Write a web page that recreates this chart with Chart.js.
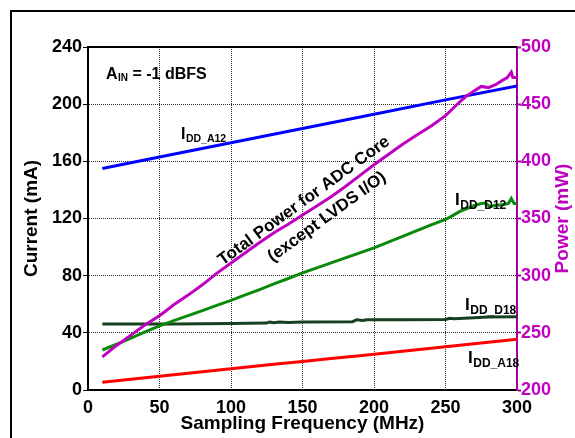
<!DOCTYPE html>
<html><head><meta charset="utf-8">
<script src="https://cdn.jsdelivr.net/npm/chart.js@4.4.1/dist/chart.umd.min.js"></script>
<style>
html,body{margin:0;padding:0;background:#fff;overflow:hidden;width:575px;height:438px;}
canvas{position:absolute;left:0;top:0;}
</style></head><body>
<canvas id="c" width="575" height="438"></canvas>
<script>
// ---- data ----
const xTicks = [0, 50, 100, 150, 200, 250, 300];
const currentTicks = [0, 40, 80, 120, 160, 200, 240];
const powerTicks = [200, 250, 300, 350, 400, 450, 500];

const a12Freq = [10, 50, 100, 150, 200, 250, 300];
const a12Vals = [155, 163, 173, 183, 193, 203, 212.7];

const d12Freq = [10, 20, 30, 40, 50, 60, 70, 80, 90, 100, 110, 120, 130, 140, 150, 160, 170, 180, 190, 200, 210, 220, 230, 240, 250, 255, 260, 265, 270, 275, 278, 281, 285, 290, 294, 296, 298, 300];
const d12Vals = [28, 32, 36.3, 40.6, 44.9, 48.5, 52, 55.6, 59.2, 62.7, 66.5, 70.3, 74.2, 78, 82, 85.5, 89, 92.5, 96, 99.5, 103.5, 107.5, 111.5, 115.5, 119.3, 122, 125, 127, 129, 130.5, 130.8, 128.3, 129.3, 129.6, 130.5, 134, 130.5, 130.5];

const d18Freq = [10, 60, 100, 125, 127, 130, 134, 140, 150, 185, 188, 192, 195, 220, 250, 253, 256, 270, 280, 300];
const d18Vals = [46.1, 46.2, 46.5, 46.8, 47.6, 47.0, 47.6, 47.3, 47.5, 47.8, 49.2, 48.6, 49.2, 49.2, 49.3, 50.2, 49.8, 50.5, 51, 51.2];

const a18Freq = [10, 30, 50, 70, 90, 110, 130, 150, 170, 190, 210, 230, 250, 270, 290, 300];
const a18Vals = [5.5, 7.5, 9.6, 11.7, 13.8, 15.9, 18, 20, 22, 24, 26, 28.2, 30.3, 32.4, 34.5, 35.5];

const powerFreq = [10, 20, 30, 40, 50, 60, 70, 80, 90, 100, 110, 120, 130, 140, 150, 160, 170, 180, 190, 200, 210, 220, 230, 240, 250, 255, 260, 265, 270, 275, 280, 285, 290, 293, 296, 297, 300];
const powerVals = [229, 239, 248, 257, 265, 274.5, 283, 292, 302, 311, 320, 329, 337.5, 345, 353, 361, 369, 378, 387.5, 397, 406, 415, 423, 431, 440, 446, 452, 457.5, 461.5, 465.5, 464.5, 467, 471, 473, 478, 473.5, 473];

const FONT = '"Liberation Sans", Arial, Helvetica, sans-serif';
const MAG = '#c000c0';

function pts(xs, ys) { return xs.map((x, i) => ({ x: x, y: ys[i] })); }

function drawSub(ctx, main, sub, x, y, mainSize, subSize, drop, color) {
  ctx.save();
  ctx.fillStyle = color;
  ctx.textAlign = 'left';
  ctx.textBaseline = 'alphabetic';
  ctx.font = 'bold ' + mainSize + 'px ' + FONT;
  ctx.fillText(main, x, y);
  const w = ctx.measureText(main).width;
  ctx.font = 'bold ' + subSize + 'px ' + FONT;
  ctx.fillText(sub, x + w + 0.5, y + drop);
  ctx.restore();
}

const overlay = {
  id: 'overlay',
  beforeDraw(chart) {
    const ctx = chart.ctx;
    ctx.save();
    ctx.fillStyle = '#fff';
    ctx.fillRect(0, 0, chart.width, chart.height);
    // outer figure frame (only left and top edges are visible)
    ctx.strokeStyle = '#000';
    ctx.lineWidth = 2;
    ctx.beginPath();
    ctx.moveTo(11, chart.height);
    ctx.lineTo(11, 11);
    ctx.lineTo(chart.width, 11);
    ctx.stroke();
    ctx.restore();
  },
  afterDraw(chart) {
    const ctx = chart.ctx;
    const a = chart.chartArea;
    ctx.save();
    // top frame of plot
    ctx.strokeStyle = '#000';
    ctx.lineWidth = 2;
    ctx.beginPath();
    ctx.moveTo(a.left - 1, a.top);
    ctx.lineTo(a.right, a.top);
    ctx.stroke();

    // axis titles
    ctx.fillStyle = '#000';
    ctx.font = 'bold 19px ' + FONT;
    ctx.textAlign = 'center';
    ctx.textBaseline = 'middle';
    ctx.fillText('Sampling Frequency (MHz)', (a.left + a.right) / 2, 424);
    ctx.save();
    ctx.translate(32, (a.top + a.bottom) / 2);
    ctx.rotate(-Math.PI / 2);
    ctx.fillText('Current (mA)', 0, 0);
    ctx.restore();
    ctx.save();
    ctx.fillStyle = MAG;
    ctx.translate(563, (a.top + a.bottom) / 2);
    ctx.rotate(-Math.PI / 2);
    ctx.fillText('Power (mW)', 0, 0);
    ctx.restore();

    // annotations
    drawSub(ctx, 'A', 'IN', 106, 79, 16, 10, 2, '#000');
    ctx.fillStyle = '#000';
    ctx.textAlign = 'left';
    ctx.textBaseline = 'alphabetic';
    ctx.font = 'bold 16px ' + FONT;
    const wA = ctx.measureText('A').width;
    ctx.font = 'bold 10px ' + FONT;
    const wIN = ctx.measureText('IN').width;
    ctx.font = 'bold 16px ' + FONT;
    ctx.fillText(' = -1 dBFS', 106 + wA + 0.5 + wIN, 79);

    drawSub(ctx, 'I', 'DD_A12', 181, 139, 16, 10.5, 3, '#000');
    drawSub(ctx, 'I', 'DD_D12', 455, 205, 17, 12, 3.5, '#000');
    drawSub(ctx, 'I', 'DD_D18', 465, 310, 17, 12, 3.5, '#000');
    drawSub(ctx, 'I', 'DD_A18', 468, 363, 17, 12, 3.5, '#000');

    ctx.save();
    ctx.font = 'bold 17px ' + FONT;
    ctx.fillStyle = '#000';
    ctx.textAlign = 'center';
    ctx.textBaseline = 'middle';
    ctx.translate(304, 201);
    ctx.rotate(-36 * Math.PI / 180);
    ctx.fillText('Total Power for ADC Core', 0, 0);
    ctx.restore();
    ctx.save();
    ctx.font = 'bold 17px ' + FONT;
    ctx.fillStyle = '#000';
    ctx.textAlign = 'center';
    ctx.textBaseline = 'middle';
    ctx.translate(327, 217);
    ctx.rotate(-36 * Math.PI / 180);
    ctx.fillText('(except LVDS I/O)', 0, 0);
    ctx.restore();
    ctx.restore();
  }
};

const gridColor = (edges) => (c) => (c.tick && edges.includes(c.tick.value)) ? 'rgba(0,0,0,0)' : '#2a2a2a';

const lineDs = (label, data, color, axis) => ({
  label: label, data: data, borderColor: color, backgroundColor: color,
  borderWidth: 3, pointRadius: 0, tension: 0, fill: false, yAxisID: axis
});

new Chart(document.getElementById('c'), {
  type: 'line',
  data: {
    datasets: [
      lineDs('Total Power', pts(powerFreq, powerVals), MAG, 'y2'),
      lineDs('IDD_D12', pts(d12Freq, d12Vals), '#0a8a0a', 'y'),
      lineDs('IDD_A12', pts(a12Freq, a12Vals), '#0000ff', 'y'),
      lineDs('IDD_A18', pts(a18Freq, a18Vals), '#ff0000', 'y'),
      lineDs('IDD_D18', pts(d18Freq, d18Vals), '#173f22', 'y')
    ]
  },
  options: {
    responsive: false,
    animation: false,
    events: [],
    layout: { padding: { top: 47, left: 0, right: 0, bottom: 0 } },
    plugins: { legend: { display: false }, tooltip: { enabled: false } },
    scales: {
      x: {
        type: 'linear', min: 0, max: 300,
        afterBuildTicks: (s) => { s.ticks = xTicks.map(v => ({ value: v })); },
        afterFit: (s) => { s.height = 48; },
        grid: { color: gridColor([0, 300]), lineWidth: 1, drawTicks: false },
        border: { display: true, color: '#000', width: 2, dash: [1, 1] },
        ticks: { color: '#000', font: { family: FONT, size: 18, weight: 'bold' }, padding: 7, maxRotation: 0 }
      },
      y: {
        type: 'linear', position: 'left', min: 0, max: 240,
        afterBuildTicks: (s) => { s.ticks = currentTicks.map(v => ({ value: v })); },
        afterFit: (s) => { s.width = 88; },
        grid: { color: gridColor([0, 240]), lineWidth: 1, drawTicks: true, tickLength: 5, tickColor: '#000', tickWidth: 1 },
        border: { display: true, color: '#000', width: 2, dash: [1, 1] },
        ticks: { color: '#000', font: { family: FONT, size: 18, weight: 'bold' }, padding: 1 }
      },
      y2: {
        type: 'linear', position: 'right', min: 200, max: 500,
        afterBuildTicks: (s) => { s.ticks = powerTicks.map(v => ({ value: v })); },
        afterFit: (s) => { s.width = 58; },
        grid: { drawOnChartArea: false, drawTicks: true, tickLength: 4, tickColor: '#a000a0', tickWidth: 2 },
        border: { display: true, color: '#a000a0', width: 2 },
        ticks: { color: MAG, font: { family: FONT, size: 18, weight: 'bold' }, padding: 0 }
      }
    }
  },
  plugins: [overlay]
});
</script>
</body></html>
